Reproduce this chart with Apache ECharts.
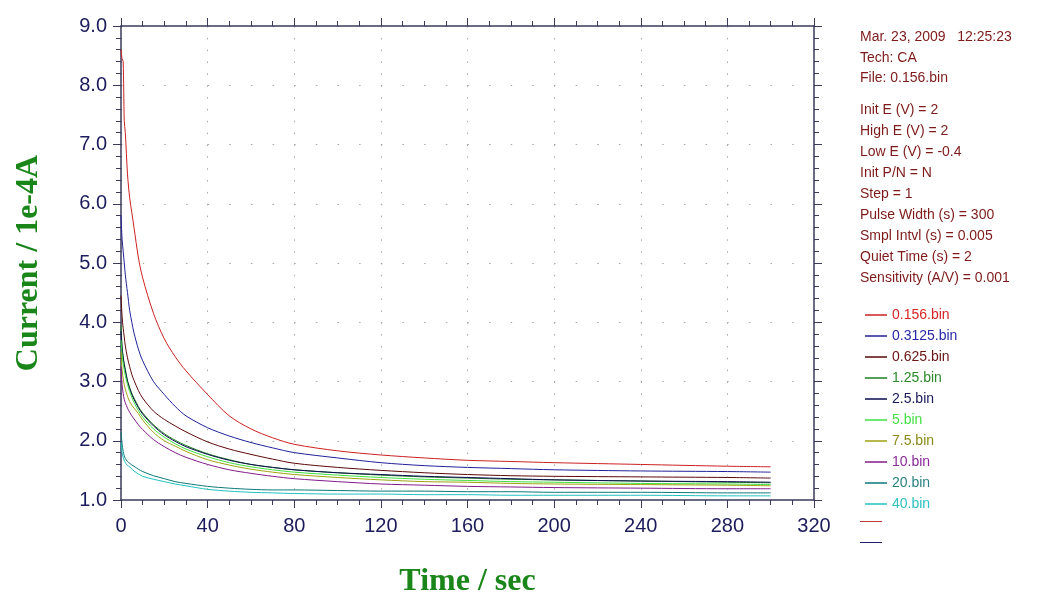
<!DOCTYPE html>
<html>
<head>
<meta charset="utf-8">
<script src="https://cdn.jsdelivr.net/npm/echarts@6/dist/echarts.min.js"></script>
<style>
  html, body { margin: 0; padding: 0; background: #fff; }
  #chart { width: 1052px; height: 596px; }
</style>
</head>
<body>
<div id="chart"></div>
<script>
// sample times (s)
const times = [0, 0.5, 1, 1.5, 2, 3, 4, 5, 6, 8, 10, 15, 20, 25, 30, 40, 50, 60, 70, 80, 100, 120, 140, 160, 180, 200, 240, 280, 300];

// current / 1e-4 A
const cur0156 = [8.6, 8.45, 8.4, 7.4, 7.2, 6.5, 6.1, 5.85, 5.6, 5.1, 4.75, 4.15, 3.72, 3.42, 3.18, 2.78, 2.42, 2.2, 2.05, 1.94, 1.83, 1.76, 1.71, 1.67, 1.65, 1.63, 1.6, 1.57, 1.56];
const cur03125 = [5.8, 5.4, 5.2, 5.0, 4.8, 4.5, 4.2, 4.0, 3.82, 3.55, 3.35, 3.0, 2.78, 2.58, 2.42, 2.22, 2.08, 1.97, 1.88, 1.8, 1.71, 1.63, 1.58, 1.55, 1.53, 1.51, 1.49, 1.48, 1.47];
const cur0625 = [4.45, 4.1, 3.9, 3.75, 3.6, 3.4, 3.25, 3.12, 3.02, 2.85, 2.72, 2.5, 2.36, 2.25, 2.15, 1.98, 1.86, 1.77, 1.69, 1.62, 1.55, 1.5, 1.46, 1.43, 1.41, 1.4, 1.39, 1.38, 1.37];
const cur125 = [3.95, 3.6, 3.42, 3.3, 3.2, 3.02, 2.9, 2.8, 2.72, 2.58, 2.47, 2.27, 2.12, 2.01, 1.92, 1.78, 1.68, 1.6, 1.55, 1.51, 1.46, 1.42, 1.39, 1.37, 1.35, 1.34, 1.32, 1.3, 1.29];
const cur25 = [3.85, 3.55, 3.4, 3.28, 3.18, 3.0, 2.88, 2.78, 2.7, 2.56, 2.45, 2.25, 2.1, 1.99, 1.9, 1.77, 1.67, 1.6, 1.55, 1.51, 1.46, 1.43, 1.4, 1.38, 1.36, 1.34, 1.32, 1.31, 1.3];
const cur5 = [3.7, 3.45, 3.3, 3.2, 3.1, 2.95, 2.83, 2.73, 2.65, 2.51, 2.4, 2.2, 2.06, 1.95, 1.86, 1.73, 1.63, 1.56, 1.51, 1.47, 1.42, 1.38, 1.35, 1.33, 1.31, 1.3, 1.28, 1.27, 1.26];
const cur75 = [3.5, 3.2, 3.05, 2.95, 2.87, 2.75, 2.66, 2.6, 2.55, 2.46, 2.35, 2.14, 2.0, 1.91, 1.82, 1.68, 1.59, 1.52, 1.47, 1.43, 1.38, 1.34, 1.31, 1.3, 1.28, 1.27, 1.26, 1.25, 1.24];
const cur10 = [3.25, 2.95, 2.8, 2.7, 2.64, 2.55, 2.48, 2.42, 2.37, 2.27, 2.19, 2.02, 1.9, 1.8, 1.72, 1.6, 1.51, 1.45, 1.4, 1.36, 1.31, 1.27, 1.25, 1.23, 1.22, 1.21, 1.2, 1.19, 1.19];
const cur20 = [2.15, 1.95, 1.82, 1.75, 1.7, 1.65, 1.62, 1.59, 1.57, 1.52, 1.48, 1.41, 1.36, 1.31, 1.28, 1.23, 1.2, 1.18, 1.17, 1.17, 1.16, 1.15, 1.15, 1.14, 1.14, 1.13, 1.13, 1.12, 1.12];
const cur40 = [1.97, 1.8, 1.72, 1.67, 1.63, 1.58, 1.56, 1.52, 1.49, 1.44, 1.4, 1.35, 1.31, 1.27, 1.24, 1.18, 1.15, 1.13, 1.12, 1.11, 1.1, 1.1, 1.09, 1.09, 1.08, 1.08, 1.08, 1.07, 1.07];

const fileNames = ['0.156.bin', '0.3125.bin', '0.625.bin', '1.25.bin', '2.5.bin', '5.bin', '7.5.bin', '10.bin', '20.bin', '40.bin'];
const curves = [cur0156, cur03125, cur0625, cur125, cur25, cur5, cur75, cur10, cur20, cur40];
const lineColors = ['#cc2020', '#20209a', '#5a0808', '#1f7f1f', '#0a0a50', '#3ee03e', '#a0a010', '#801a8a', '#0a7878', '#20c0c0'];
const textColors = ['#d82424', '#2828a8', '#6a1414', '#2a8a2a', '#18185a', '#44e044', '#8a8a18', '#8a2a9a', '#2a8080', '#30c0c0'];

const infoTop = ['Mar. 23, 2009   12:25:23', 'Tech: CA', 'File: 0.156.bin'];
const infoParams = ['Init E (V) = 2', 'High E (V) = 2', 'Low E (V) = -0.4', 'Init P/N = N', 'Step = 1',
  'Pulse Width (s) = 300', 'Smpl Intvl (s) = 0.005', 'Quiet Time (s) = 2', 'Sensitivity (A/V) = 0.001'];

const chart = echarts.init(document.getElementById('chart'));

const axisColor = '#3a3a5a';
const labelColor = '#1c1c5c';
const nameStyle = { color: '#1a861a', fontFamily: 'Liberation Serif', fontWeight: 'bold', fontSize: 32 };

// 轴线、刻度的公共样式
const lineOpt = { show: true, onZero: false, lineStyle: { color: axisColor, width: 1.5 } };
const tickOpt = { show: true, length: 8, lineStyle: { color: axisColor } };
const minorOpt = n => ({ show: true, splitNumber: n, length: 5, lineStyle: { color: axisColor } });

const series = curves.map((vals, i) => ({
  name: fileNames[i],
  type: 'line',
  showSymbol: false,
  smooth: 0.3,
  lineStyle: { width: 1, color: lineColors[i] },
  itemStyle: { color: lineColors[i] },
  data: times.map((t, k) => [t, vals[k]]),
  z: 3
}));

chart.setOption({
  animation: false,
  textStyle: { fontFamily: 'Liberation Sans' },
  grid: { left: 121, right: 238, top: 26, bottom: 96, outerBoundsMode: 'none' },
  xAxis: [{
    type: 'value', min: 0, max: 320, interval: 40,
    name: 'Time / sec', nameLocation: 'middle', nameGap: 66, nameTextStyle: nameStyle,
    axisLine: lineOpt, axisTick: tickOpt, minorTick: minorOpt(4),
    axisLabel: { color: labelColor, fontSize: 20, margin: 16 },
    splitLine: { show: true, lineStyle: { color: '#a8a8a8', type: [1.5, 10.35] } }
  }, {
    type: 'value', min: 0, max: 320, interval: 40, position: 'top',
    axisLine: lineOpt, axisTick: tickOpt, minorTick: minorOpt(4),
    axisLabel: { show: false },
    splitLine: { show: false }
  }],
  yAxis: [{
    type: 'value', min: 1, max: 9, interval: 1, position: 'left',
    name: 'Current / 1e-4A', nameLocation: 'middle', nameGap: 76, nameRotate: 90, nameTextStyle: nameStyle,
    axisLine: lineOpt, axisTick: tickOpt, minorTick: minorOpt(5),
    axisLabel: { color: labelColor, fontSize: 20, margin: 14, formatter: v => v.toFixed(1) },
    splitLine: { show: true, lineStyle: { color: '#a8a8a8', type: [1.5, 20.15] } }
  }, {
    type: 'value', min: 1, max: 9, interval: 1, position: 'right',
    axisLine: lineOpt, axisTick: tickOpt, minorTick: minorOpt(5),
    axisLabel: { show: false },
    splitLine: { show: false }
  }],
  legend: {
    orient: 'vertical',
    left: 860, top: 302,
    icon: 'rect', itemWidth: 22, itemHeight: 1.5, itemGap: 5,
    selectedMode: false,
    textStyle: { fontSize: 14, lineHeight: 16, fontFamily: 'Liberation Sans' },
    data: fileNames.map((n, i) => ({ name: n, textStyle: { color: textColors[i] } }))
  },
  graphic: [
    { type: 'text', left: 860, top: 27, style: { text: infoTop.join('\n'), fill: '#7e1a1a', font: '14px Liberation Sans', lineHeight: 20.5 } },
    { type: 'text', left: 860, top: 100, style: { text: infoParams.join('\n'), fill: '#7e1a1a', font: '14px Liberation Sans', lineHeight: 21 } },
    { type: 'line', shape: { x1: 860, y1: 521.5, x2: 882, y2: 521.5 }, style: { stroke: '#c03838', lineWidth: 1 } },
    { type: 'line', shape: { x1: 860, y1: 542.5, x2: 882, y2: 542.5 }, style: { stroke: '#20206a', lineWidth: 1 } }
  ],
  series: series
});
</script>
</body>
</html>
